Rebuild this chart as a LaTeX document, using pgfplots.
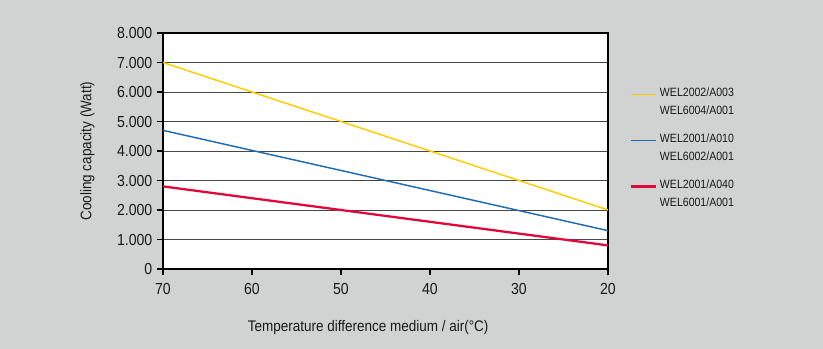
\documentclass[border=0pt]{standalone}
\usepackage{pgfplots}
\pgfplotsset{compat=1.18}
\usepackage{fontspec}
\setmainfont{Liberation Sans}[FakeStretch=0.88]
\definecolor{bg}{HTML}{D1D2D2}
\definecolor{cyel}{HTML}{FFCC00}
\definecolor{cblu}{HTML}{1F6CB4}
\definecolor{cred}{HTML}{E2063A}
\begin{document}
\begin{tikzpicture}
\fill[bg] (0,0) rectangle (617.25pt,261.75pt);
\begin{axis}[
  at={(122.25pt,60pt)}, anchor=south west,
  scale only axis, width=333.75pt, height=177pt,
  xmin=20, xmax=70, x dir=reverse,
  ymin=0, ymax=8000,
  xtick={20,30,40,50,60,70},
  ytick={0,1000,...,8000},
  xtick pos=left, ytick pos=left,
  ymajorgrids, major grid style={black!72, line width=0.75pt},
  axis line style={black, line width=1pt},
  axis background/.style={fill=white},
  tick align=outside, tick style={black, line width=0.8pt},
  major tick length=4.5pt,
  /pgf/number format/assume math mode=true,
  /pgf/number format/1000 sep={.},
  /pgf/number format/min exponent for 1000 sep=3,
  ticklabel style={font=\fontsize{12}{14}\selectfont, text=black!90},
  xticklabel style={yshift=-3pt},
  xlabel={Temperature difference medium / air(°C)},
  ylabel={Cooling capacity (Watt)},
  label style={font=\fontsize{11.5}{13}\selectfont, text=black!90},
  xlabel style={yshift=-12pt, xshift=-13pt},
  ylabel style={yshift=10pt},
  legend style={at={(1.04,0.79)}, anchor=north west, draw=none, fill=none,
    font=\fontsize{9}{13.5}\selectfont, text=black!90,
    nodes={align=left}, row sep=9pt},
  legend cell align=left,
  legend image code/.code={\draw[#1] (0pt,6pt) -- (18.75pt,6pt);},
]
\addplot[cyel, line width=1.1pt] coordinates {(70,7000) (20,2000)};
\addlegendentry{WEL2002/A003\\WEL6004/A001}
\addplot[cblu, line width=1.1pt] coordinates {(70,4700) (20,1300)};
\addlegendentry{WEL2001/A010\\WEL6002/A001}
\addplot[cred, line width=1.7pt] coordinates {(70,2800) (20,800)};
\addlegendentry{WEL2001/A040\\WEL6001/A001}
\end{axis}
\end{tikzpicture}
\end{document}
